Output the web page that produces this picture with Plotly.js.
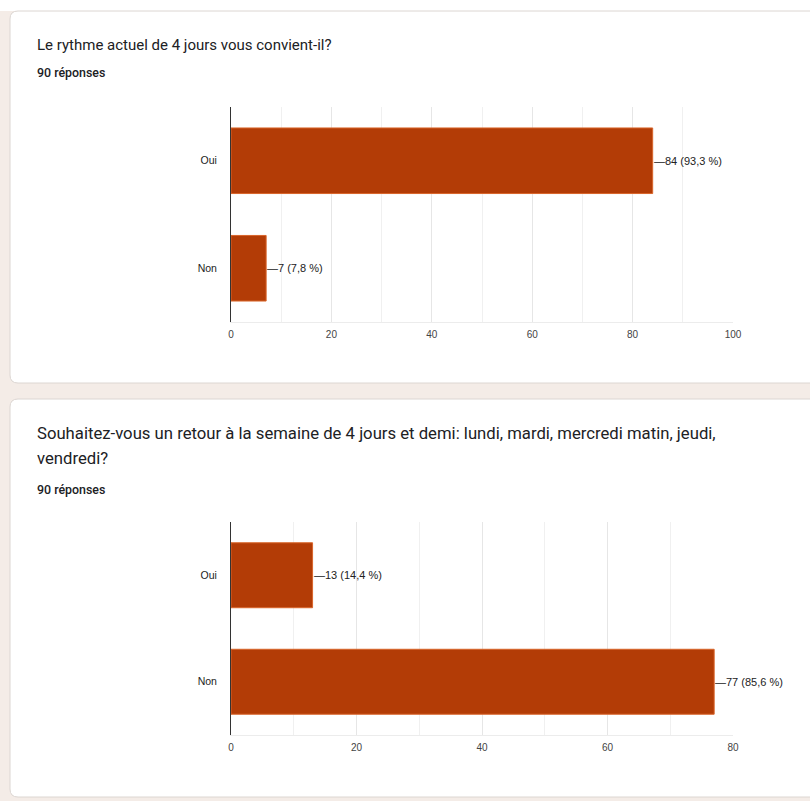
<!DOCTYPE html>
<html>
<head>
<meta charset="utf-8">
<script src="https://cdn.plot.ly/plotly-3.0.1.min.js"></script>
<style>
  html, body { margin: 0; padding: 0; background: #f4ece7; }
  #chart { width: 810px; height: 801px; }
</style>
</head>
<body>
<div id="chart"></div>
<script>
// ---------- data ----------
const categories = ['Oui', 'Non'];
const q1Counts = [84, 7];
const q1Pcts = ['93,3', '7,8'];
const q2Counts = [13, 77];
const q2Pcts = ['14,4', '85,6'];
const q1Ticks = [0, 20, 40, 60, 80, 100];
const q2Ticks = [0, 20, 40, 60, 80];
const q1Title = 'Le rythme actuel de 4 jours vous convient-il?';
const q2TitleLines = [
  'Souhaitez-vous un retour à la semaine de 4 jours et demi: lundi, mardi, mercredi matin, jeudi,',
  'vendredi?'
];
const responsesText = '90 réponses';

// ---------- helpers ----------
const W = 810, H = 801;
const X = p => p / W;
const Y = p => 1 - p / H;

function roundedRect(x0, y0, x1, y1, r) {
  return `M ${X(x0 + r)},${Y(y0)} L ${X(x1 - r)},${Y(y0)} Q ${X(x1)},${Y(y0)} ${X(x1)},${Y(y0 + r)} ` +
         `L ${X(x1)},${Y(y1 - r)} Q ${X(x1)},${Y(y1)} ${X(x1 - r)},${Y(y1)} ` +
         `L ${X(x0 + r)},${Y(y1)} Q ${X(x0)},${Y(y1)} ${X(x0)},${Y(y1 - r)} ` +
         `L ${X(x0)},${Y(y0 + r)} Q ${X(x0)},${Y(y0)} ${X(x0 + r)},${Y(y0)} Z`;
}

const barColor = '#b33c06';
const barLine = '#d9652a';
const labelFont = { family: 'Liberation Sans, Arial, sans-serif', size: 11, color: '#222222' };
const catFont = { family: 'Liberation Sans, Arial, sans-serif', size: 10.5, color: '#222222' };
const tickFont = { family: 'Liberation Sans, Arial, sans-serif', size: 10, color: '#444444' };
const title1Font = { family: 'Roboto, sans-serif', size: 15, color: '#202124' };
const title2Font = { family: 'Roboto, sans-serif', size: 16.7, color: '#202124' };
const respFont = { family: 'Roboto, sans-serif', size: 12.4, color: '#202124', weight: 500 };

const traces = [
  {
    type: 'bar', orientation: 'h', x: q1Counts, y: categories,
    xaxis: 'x', yaxis: 'y',
    marker: { color: barColor, line: { color: barLine, width: 1 } },
    hoverinfo: 'skip'
  },
  {
    type: 'bar', orientation: 'h', x: q2Counts, y: categories,
    xaxis: 'x2', yaxis: 'y2',
    marker: { color: barColor, line: { color: barLine, width: 1 } },
    hoverinfo: 'skip'
  }
];

function xAxis(range, ticks, anchor) {
  return {
    domain: [X(231), X(733)],
    anchor: anchor,
    range: range,
    tickmode: 'array',
    tickvals: ticks,
    ticktext: ticks.map(String),
    showgrid: true,
    gridcolor: '#e6e6e6',
    gridwidth: 1,
    minor: { dtick: 10, tick0: 0, showgrid: true, gridcolor: '#f0f0f0', ticks: '' },
    zeroline: false,
    showline: true,
    linecolor: '#ececec',
    ticks: 'outside',
    ticklen: 3,
    tickcolor: 'rgba(0,0,0,0)',
    tickfont: tickFont,
    fixedrange: true
  };
}
function yAxis(top, bottom, anchor) {
  return {
    domain: [Y(bottom), Y(top)],
    anchor: anchor,
    type: 'category',
    categoryorder: 'array',
    categoryarray: categories,
    autorange: 'reversed',
    showgrid: false,
    zeroline: false,
    showline: true,
    linecolor: '#333333',
    linewidth: 1,
    ticks: 'outside',
    ticklen: 11,
    tickcolor: 'rgba(0,0,0,0)',
    tickfont: catFont,
    fixedrange: true
  };
}

const annotations = [];
function addBarLabels(counts, pcts, xref, yref) {
  counts.forEach((c, i) => {
    annotations.push({
      x: c, y: categories[i], xref: xref, yref: yref,
      text: '\u2014' + c + ' (' + pcts[i] + ' %)',
      showarrow: false, xanchor: 'left', yanchor: 'middle',
      font: labelFont, borderpad: 0
    });
  });
}
addBarLabels(q1Counts, q1Pcts, 'x', 'y');
addBarLabels(q2Counts, q2Pcts, 'x2', 'y2');

function addText(text, x, y, font) {
  annotations.push({
    text: text, x: X(x), y: Y(y), xref: 'paper', yref: 'paper',
    xanchor: 'left', yanchor: 'middle', showarrow: false, font: font
  });
}
addText(q1Title, 35, 45, title1Font);
addText(responsesText, 35, 72, respFont);
addText(q2TitleLines[0], 35, 433, title2Font);
addText(q2TitleLines[1], 35, 459, title2Font);
addText(responsesText, 35, 489, respFont);

const shapes = [
  { type: 'rect', xref: 'paper', yref: 'paper', x0: 0, x1: 1, y0: Y(11), y1: 1,
    fillcolor: '#ffffff', line: { width: 0 }, layer: 'below' },
  { type: 'path', xref: 'paper', yref: 'paper', path: roundedRect(10, 11, 840, 383, 8),
    fillcolor: '#ffffff', line: { color: '#dcd6d2', width: 1 }, layer: 'below' },
  { type: 'path', xref: 'paper', yref: 'paper', path: roundedRect(10, 399, 840, 797, 8),
    fillcolor: '#ffffff', line: { color: '#dcd6d2', width: 1 }, layer: 'below' }
];

const layout = {
  width: W, height: H,
  margin: { l: 0, r: 0, t: 0, b: 0, pad: 0 },
  paper_bgcolor: '#f4ece7',
  plot_bgcolor: 'rgba(0,0,0,0)',
  showlegend: false,
  bargap: 0.39,
  xaxis: xAxis([0, 100], q1Ticks, 'y'),
  yaxis: yAxis(107, 322, 'x'),
  xaxis2: xAxis([0, 80], q2Ticks, 'y2'),
  yaxis2: yAxis(522, 735, 'x2'),
  annotations: annotations,
  shapes: shapes
};

Plotly.newPlot('chart', traces, layout, { displayModeBar: false, staticPlot: true });
</script>
</body>
</html>
